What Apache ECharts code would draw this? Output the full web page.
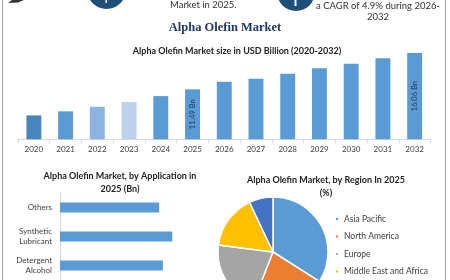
<!DOCTYPE html>
<html>
<head>
<meta charset="utf-8">
<script src="https://cdn.jsdelivr.net/npm/echarts@6/dist/echarts.min.js"></script>
<style>
  html, body { margin: 0; padding: 0; background: #fff; }
  #chart { width: 450px; height: 280px; }
</style>
</head>
<body>
<div id="chart"></div>
<script>
// market size by year (USD Bn)
const years = ['2020', '2021', '2022', '2023', '2024', '2025', '2026', '2027', '2028', '2029', '2030', '2031', '2032']
const marketSize = [8.21, 8.72, 9.29, 9.89, 10.64, 11.49, 12.44, 12.82, 13.45, 14.13, 14.71, 15.39, 16.06]
const labeledYears = ['2025', '2032']

// by application, 2025 (Bn)
const applications = ['Others', 'Synthetic\nLubricant', 'Detergent\nAlcohol']
const applicationValues = [2.65, 3.0, 2.75]

// by region, 2025 (%)
const regions = ['Asia Pacific', 'North America', 'Europe', 'Middle East and Africa', 'South America']
const regionShares = [34, 22, 21, 16, 7]

const yearColors = ['#4a86be', '#5b9bd5', '#8db3e2', '#bcd2ec', '#5b9bd5', '#5b9bd5', '#5b9bd5',
  '#5b9bd5', '#5b9bd5', '#5b9bd5', '#5b9bd5', '#5b9bd5', '#5b9bd5']
const regionColors = ['#5b9bd5', '#ed7d31', '#a5a5a5', '#ffc000', '#4472c4']

const font = 'Lato, "Open Sans", sans-serif'
const chart = echarts.init(document.getElementById('chart'))

const option = {
  animation: false,
  textStyle: { fontFamily: font },
  title: [
    {
      text: 'Alpha Olefin Market',
      left: 'center',
      top: 16,
      textStyle: { fontFamily: '"Liberation Serif", "DejaVu Serif", serif', fontSize: 12.5, fontWeight: 'bold', color: '#1f3864' }
    },
    {
      text: 'Alpha Olefin Market size in USD Billion (2020-2032)',
      left: 232,
      textAlign: 'center',
      top: 42,
      textStyle: { fontSize: 9, fontWeight: 'bold', color: '#222' }
    },
    {
      text: 'Alpha Olefin Market, by Application in\n2025 (Bn)',
      left: 115,
      textAlign: 'center',
      top: 165,
      textStyle: { fontSize: 9, fontWeight: 'bold', color: '#222', lineHeight: 13 }
    },
    {
      text: 'Alpha Olefin Market, by Region In 2025\n(%)',
      left: 321,
      textAlign: 'center',
      top: 169,
      textStyle: { fontSize: 9, fontWeight: 'bold', color: '#222', lineHeight: 13 }
    }
  ],
  legend: {
    orient: 'vertical',
    left: 329,
    top: 209,
    height: 200,
    icon: 'rect',
    itemWidth: 4,
    itemHeight: 4,
    itemGap: 7.5,
    data: regions,
    textStyle: { fontSize: 8.5, color: '#404040', lineHeight: 10 }
  },
  grid: [
    { left: 18, right: 19.5, top: 36, bottom: 140.7 },
    { left: 60, right: 240.3, top: 193, bottom: 0 }
  ],
  xAxis: [
    {
      gridIndex: 0,
      type: 'category',
      data: years,
      axisLine: { lineStyle: { color: '#d9d9d9', width: 1 } },
      axisTick: { show: true, length: 4, lineStyle: { color: '#d9d9d9' } },
      axisLabel: { fontSize: 8, color: '#404040', margin: 6 }
    },
    { gridIndex: 1, type: 'value', min: 0, max: 4, show: false }
  ],
  yAxis: [
    { gridIndex: 0, type: 'value', min: 5.2, max: 18.2, show: false },
    {
      gridIndex: 1,
      type: 'category',
      inverse: true,
      data: applications,
      axisLine: { lineStyle: { color: '#d9d9d9' } },
      axisTick: { show: false },
      axisLabel: { fontSize: 8, color: '#404040', lineHeight: 10, margin: 8 }
    }
  ],
  series: [
    {
      type: 'bar',
      xAxisIndex: 0,
      yAxisIndex: 0,
      barWidth: '47%',
      data: marketSize.map((v, i) => ({
        value: v,
        itemStyle: { color: yearColors[i] },
        label: { show: labeledYears.includes(years[i]) }
      })),
      label: {
        position: 'inside',
        rotate: 90,
        fontSize: 7.5,
        color: '#1f3b5a',
        formatter: p => p.value.toFixed(2) + ' Bn'
      }
    },
    {
      type: 'bar',
      xAxisIndex: 1,
      yAxisIndex: 1,
      barWidth: 10,
      itemStyle: { color: '#5b9bd5' },
      data: applicationValues
    },
    {
      type: 'pie',
      center: [273, 252],
      radius: 55,
      startAngle: 90,
      clockwise: true,
      label: { show: false },
      labelLine: { show: false },
      itemStyle: { borderColor: '#fff', borderWidth: 1.5 },
      data: regions.map((r, i) => ({ name: r, value: regionShares[i], itemStyle: { color: regionColors[i] } }))
    }
  ],
  graphic: [
    // page frame
    { type: 'line', shape: { x1: 2.5, y1: 0, x2: 2.5, y2: 280 }, style: { stroke: '#a6a6a6', lineWidth: 1 } },
    { type: 'line', shape: { x1: 445.5, y1: 0, x2: 445.5, y2: 280 }, style: { stroke: '#a6a6a6', lineWidth: 1 } },
    // top-left swoosh remnant
    { type: 'polygon', shape: { points: [[8, 3], [12, 0], [24, 0], [18, 2.5]] }, style: { fill: '#333' } },
    // icon circles cut off by the top edge
    { type: 'circle', shape: { cx: 106.5, cy: -10.5, r: 19.5 }, style: { fill: '#1f4e79' } },
    { type: 'rect', shape: { x: 105.5, y: 0, width: 1.5, height: 3 }, style: { fill: '#fff' } },
    { type: 'circle', shape: { cx: 296, cy: -8, r: 19 }, style: { fill: '#1f4e79' } },
    { type: 'rect', shape: { x: 294.5, y: 0, width: 2, height: 6 }, style: { fill: '#fff' } },
    // top fragments of text
    { type: 'text', left: 170, top: 0, style: { text: 'Market in 2025.', font: '9.5px ' + font, fill: '#333' } },
    {
      type: 'text', x: 378, y: 0,
      style: { text: 'a CAGR of 4.9% during 2026-\n2032', font: '9.5px ' + font, fill: '#333', align: 'center', lineHeight: 11 }
    }
  ]
}

chart.setOption(option)
window.onresize = () => {
  chart.resize()
}
</script>
</body>
</html>
